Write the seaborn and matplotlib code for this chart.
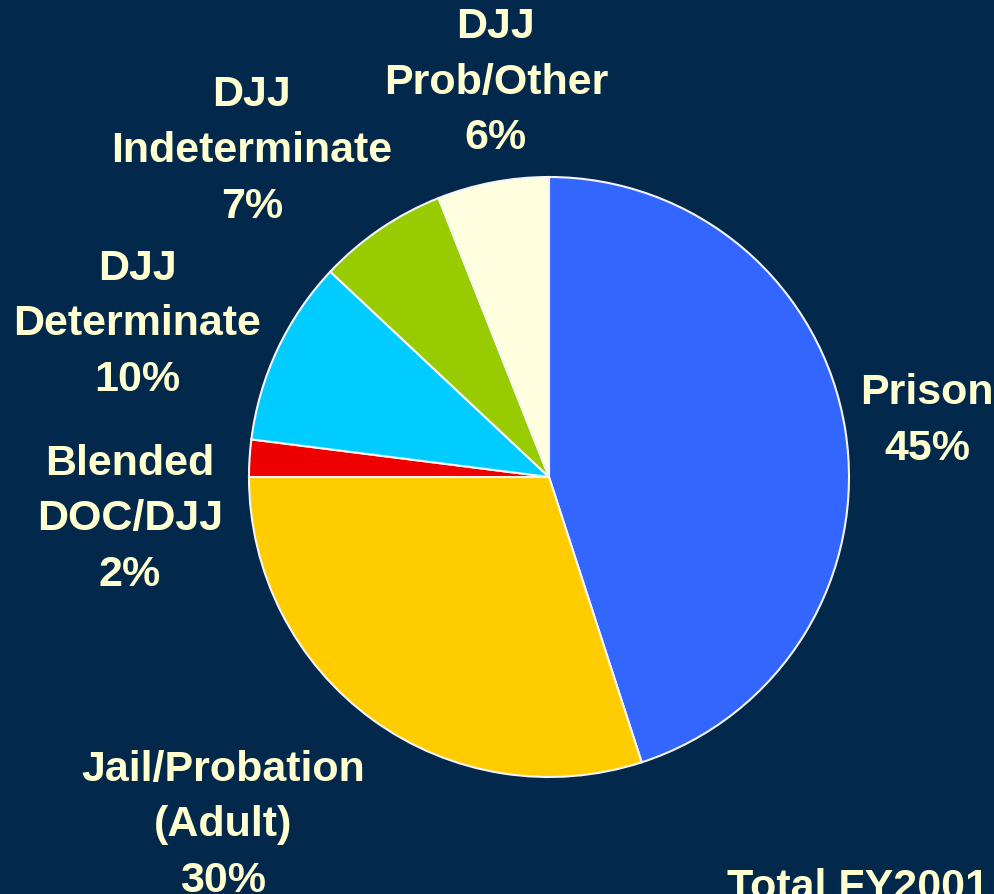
import matplotlib
matplotlib.use("Agg")
import matplotlib.pyplot as plt
import seaborn as sns

# ------------------ DATA ------------------ #
labels = ["Prison\n45%", "Jail/Probation\n(Adult)\n30%", "Blended\nDOC/DJJ\n2%",
          "DJJ\nDeterminate\n10%", "DJJ\nIndeterminate\n7%", "DJJ\nProb/Other\n6%"]
values = [45, 30, 2, 10, 7, 6]
colors = ["#3366FF", "#FFCC00", "#EE0000", "#00CCFF", "#99CC00", "#FFFFE0"]
# label centers in pie-radius units
label_pos = [(1.26, 0.19), (-1.087, -1.157), (-1.397, -0.137),
             (-1.373, 0.513), (-0.99, 1.09), (-0.177, 1.317)]
footer = "Total FY2001"

bg = "#02284C"
txt = "#FFFFD0"

sns.set_style("white")
plt.rcParams["font.family"] = ["Liberation Sans", "DejaVu Sans"]

W, H = 994, 895
fig = plt.figure(figsize=(W / 100, H / 100), dpi=100)
fig.patch.set_facecolor(bg)

cx, cy, r = 549, 478, 300
ax = fig.add_axes([(cx - r) / W, (H - cy - r) / H, 2 * r / W, 2 * r / H])
ax.set_facecolor(bg)
ax.pie(values, colors=colors, startangle=90, counterclock=False, radius=1,
       wedgeprops={"edgecolor": "#F4F4F4", "linewidth": 1.5})
ax.set_xlim(-1, 1)
ax.set_ylim(-1, 1)
ax.set_aspect("equal")
ax.axis("off")

for lab, (x, y) in zip(labels, label_pos):
    ax.text(x, y, lab, ha="center", va="center", color=txt, fontsize=31,
            fontweight="bold", linespacing=1.5, clip_on=False)

# footer is cut by the bottom edge, as in the original slide
fig.text(727 / W, 1 - 868 / H, footer, ha="left", va="top", color=txt,
         fontsize=31, fontweight="bold")

plt.savefig("out.png", dpi=100, facecolor=bg)
plt.close()
